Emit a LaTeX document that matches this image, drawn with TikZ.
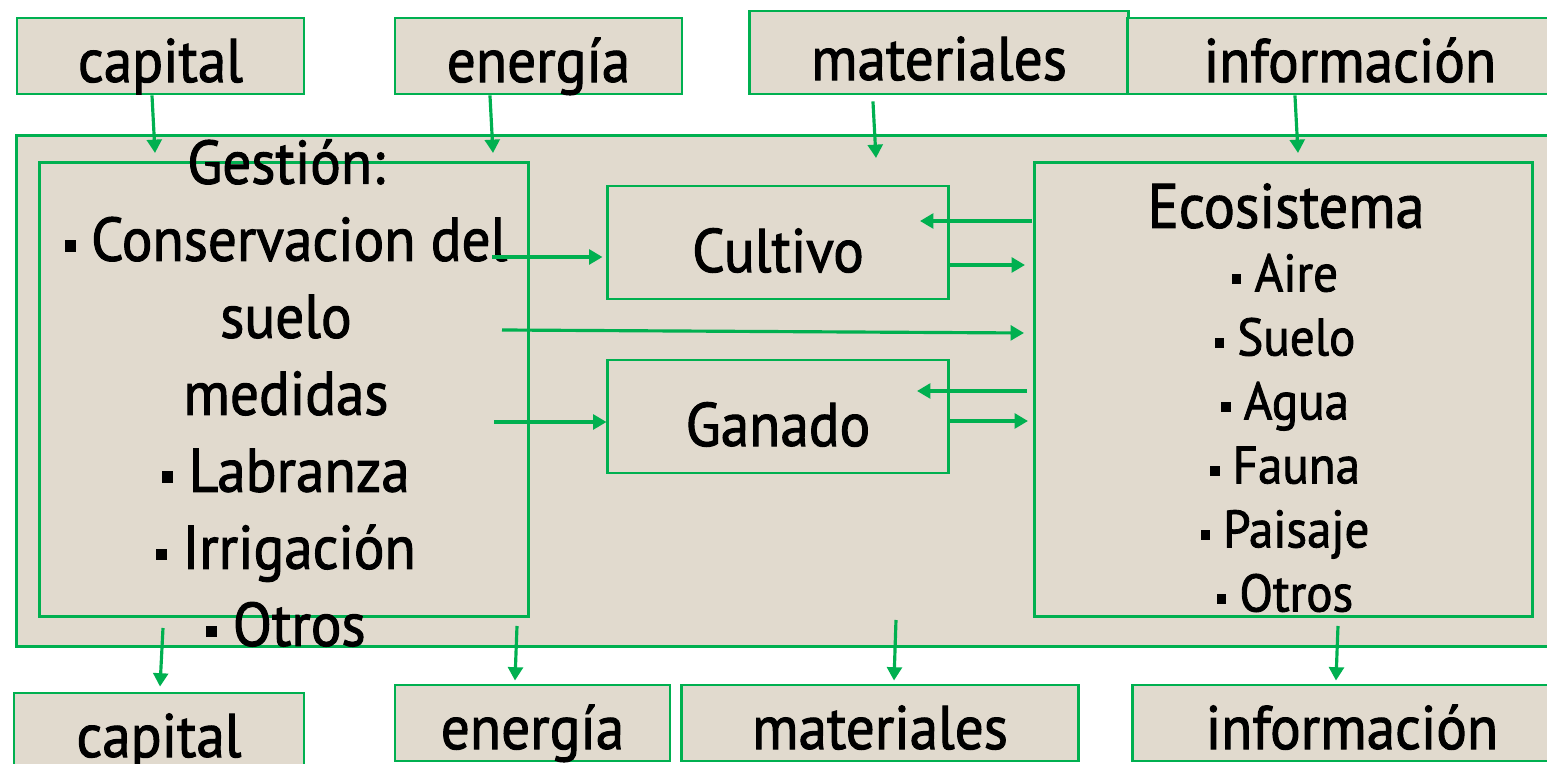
\documentclass[tikz,border=0pt]{standalone}
\usepackage{fontspec}
\setmainfont{PT Sans}[FakeStretch=0.93,FakeBold=1.6]
\usetikzlibrary{positioning,arrows.meta}

\definecolor{paper}{RGB}{225,218,206}
\definecolor{leaf}{RGB}{0,176,80}
\newcommand{\sqb}{\rule[0.15em]{0.18em}{0.18em}\hspace{0.25em}}

\begin{document}
\begin{tikzpicture}[x=0.01cm, y=-0.01cm,
    frame/.style={draw=leaf, line width=0.8pt, inner sep=0pt},
    tag/.style={frame, fill=paper, minimum height=0.76cm, text height=0.64cm, text depth=0.12cm,
      font=\fontsize{17.5}{21}\selectfont},
    unit/.style={frame, minimum width=3.40cm, minimum height=1.13cm, text height=0.74cm, text depth=0.15cm,
      font=\fontsize{17.5}{21}\selectfont},
    flow/.style={draw=leaf, line width=0.9pt, -{Triangle[length=3.8pt,width=4.2pt]}}]
    \useasboundingbox (0,0) rectangle (1547,764);
    \clip (0,0) rectangle (1547,764);

    % inputs
    \node[tag, minimum width=2.87cm] (capT) at (160.5,56) {capital};
    \node[tag, minimum width=2.87cm] (engT) at (538.5,56) {energía};
    \node[tag, minimum width=3.78cm, minimum height=0.83cm, text height=0.69cm, text depth=0.14cm] (matT) at (939,52.5) {materiales};
    \node[tag, minimum width=4.44cm] (infT) at (1350,56) {información};

    % the farm
    \node[frame, fill=paper, minimum width=15.43cm, minimum height=5.10cm] (farm) at (788.5,391) {};
    \node[frame, minimum width=4.88cm, minimum height=4.53cm] (gest) at (284,389.5) {};
    \node[frame, minimum width=4.97cm, minimum height=4.53cm] (eco) at (1283.5,389.5) {};
    \node[unit] (cult) at (778,242.5) {Cultivo};
    \node[unit] (gan) at (778,416.5) {Ganado};

    \node[align=center, font=\fontsize{17.5}{21.9}\selectfont] (gtxt) at (286,393)
      {Gestión:\\ \sqb Conservacion del\\ suelo\\ medidas\\ \sqb Labranza\\ \sqb Irrigación\\ \sqb Otros};
    \node[font=\fontsize{17.8}{21}\selectfont] (etit) at (1286,206) {Ecosistema};
    \node[align=center, font=\fontsize{15}{18.2}\selectfont] (etxt) at (1285,433)
      {\sqb Aire\\ \sqb Suelo\\ \sqb Agua\\ \sqb Fauna\\ \sqb Paisaje\\ \sqb Otros};

    % outputs
    \node[tag, minimum width=2.90cm] (capB) at (159,731) {capital};
    \node[tag, minimum width=2.75cm] (engB) at (532.5,723) {energía};
    \node[tag, minimum width=3.96cm] (matB) at (880,723) {materiales};
    \node[tag, minimum width=4.38cm] (infB) at (1352,723) {información};

    % flows in
    \coordinate (capIn) at (155,153);
    \coordinate (engIn) at (493,153);
    \coordinate (matIn) at (876,158);
    \coordinate (infIn) at (1298,153);
    \draw[flow] ([xshift=-0.085cm]capT.south) -- (capIn);
    \draw[flow] ([xshift=-0.485cm]engT.south) -- (engIn);
    \draw[flow] ([xshift=-0.66cm,yshift=-0.06cm]matT.south) -- (matIn);
    \draw[flow] ([xshift=-0.55cm]infT.south) -- (infIn);

    % flows out
    \coordinate (capOut) at (163,628);
    \coordinate (engOut) at (517,626);
    \coordinate (matOut) at (896,620);
    \coordinate (infOut) at (1338,626);
    \draw[flow] (capOut) -- ([xshift=0.01cm,yshift=0.05cm]capB.north);
    \draw[flow] (engOut) -- ([xshift=-0.175cm,yshift=0.03cm]engB.north);
    \draw[flow] (matOut) -- ([xshift=0.14cm,yshift=0.03cm]matB.north);
    \draw[flow] (infOut) -- ([xshift=-0.16cm,yshift=0.03cm]infB.north);

    % inside the farm
    \coordinate (g1) at (492,257);
    \coordinate (g2) at (502,330);
    \coordinate (e2) at (1024,333);
    \coordinate (g3) at (494,422);
    \coordinate (c1) at (1032,221);
    \coordinate (c1t) at (920,221);
    \coordinate (c2) at (1025,265);
    \coordinate (a1) at (1027,391);
    \coordinate (a1t) at (917,391);
    \coordinate (a2) at (1028,421);
    \draw[flow] (g1) -- ([xshift=-0.04cm]cult.west |- g1);
    \draw[flow] (g2) -- (e2);
    \draw[flow] (g3) -- (gan.west |- g3);
    \draw[flow] (c1) -- (c1t);
    \draw[flow] (cult.east |- c2) -- (c2);
    \draw[flow] (a1) -- (a1t);
    \draw[flow] (gan.east |- a2) -- (a2);
  \end{tikzpicture}
\end{document}
